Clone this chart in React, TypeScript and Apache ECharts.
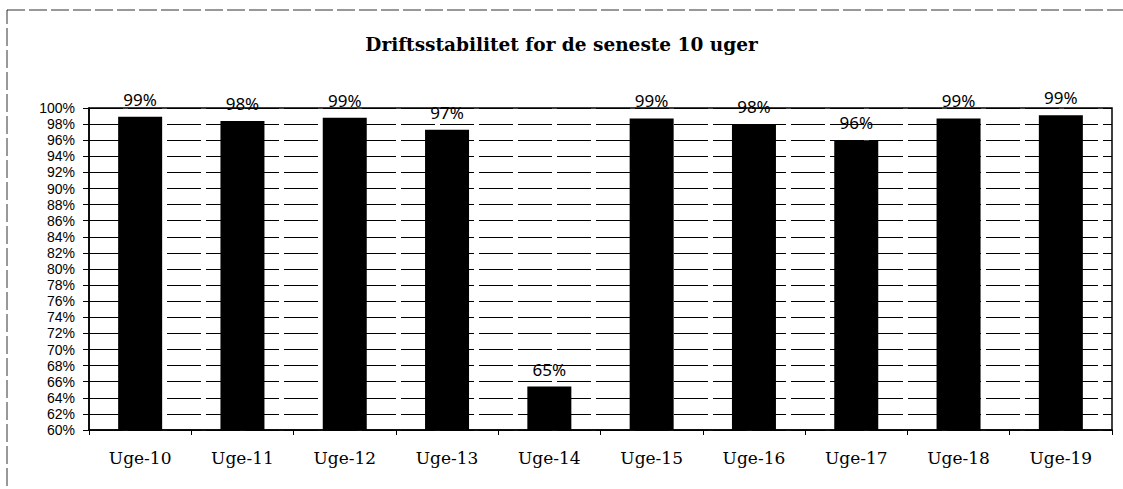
import React, { useEffect, useRef } from "react";
import * as echarts from "echarts";

const title = "Driftsstabilitet for de seneste 10 uger";
const categories = ["Uge-10", "Uge-11", "Uge-12", "Uge-13", "Uge-14", "Uge-15", "Uge-16", "Uge-17", "Uge-18", "Uge-19"];
const values = [98.9, 98.4, 98.8, 97.3, 65.4, 98.7, 98.0, 96.0, 98.7, 99.1];
const yMin = 60;
const yMax = 100;
const yInterval = 2;

export default function App() {
  const ref = useRef<HTMLDivElement>(null);
  useEffect(() => {
    if (!ref.current) return;
    const chart = echarts.init(ref.current, null, { renderer: "svg" });
    chart.setOption({
      animation: false,
      backgroundColor: "#ffffff",
      title: {
        text: title,
        left: "center",
        top: 30,
        textStyle: { fontFamily: "DejaVu Serif", fontWeight: "bold", fontSize: 18.5, color: "#000" },
      },
      graphic: [
        {
          type: "rect",
          shape: { x: 7, y: 10, width: 1200, height: 600 },
          style: { fill: "none", stroke: "#333", lineWidth: 1, lineDash: [18, 4] },
          silent: true,
          z: 0,
        },
      ],
      grid: {
        left: 89,
        right: 11,
        top: 108,
        bottom: 59,
        show: true,
        borderColor: "#000",
        borderWidth: 1.5,
      },
      xAxis: {
        type: "category",
        data: categories,
        axisLine: { show: true, lineStyle: { color: "#000", width: 1.5 } },
        axisTick: { show: true, length: 5, lineStyle: { color: "#000" } },
        axisLabel: { margin: 19, fontFamily: "DejaVu Serif", fontSize: 17, color: "#000" },
      },
      yAxis: {
        type: "value",
        min: yMin,
        max: yMax,
        interval: yInterval,
        axisLine: { show: true, lineStyle: { color: "#000", width: 1.5 } },
        axisTick: { show: true, length: 6, lineStyle: { color: "#000" } },
        axisLabel: {
          margin: 14,
          fontFamily: "Liberation Sans",
          fontSize: 14,
          lineHeight: 14,
          color: "#000",
          formatter: (v: number) => `${v}%`,
        },
        splitLine: { show: true, lineStyle: { color: "#000", width: 1, type: [34, 5] } },
      },
      series: [
        {
          type: "bar",
          data: values,
          barWidth: 44,
          itemStyle: { color: "#000" },
          label: {
            show: true,
            position: "top",
            distance: 9,
            fontFamily: "Noto Sans",
            fontSize: 17,
            color: "#000",
            formatter: (p: any) => `${Math.round(p.value)}%`,
          },
        },
      ],
    });
    return () => chart.dispose();
  }, []);
  return <div ref={ref} style={{ position: "fixed", left: 0, top: 0, width: 1123, height: 489 }} />;
}
